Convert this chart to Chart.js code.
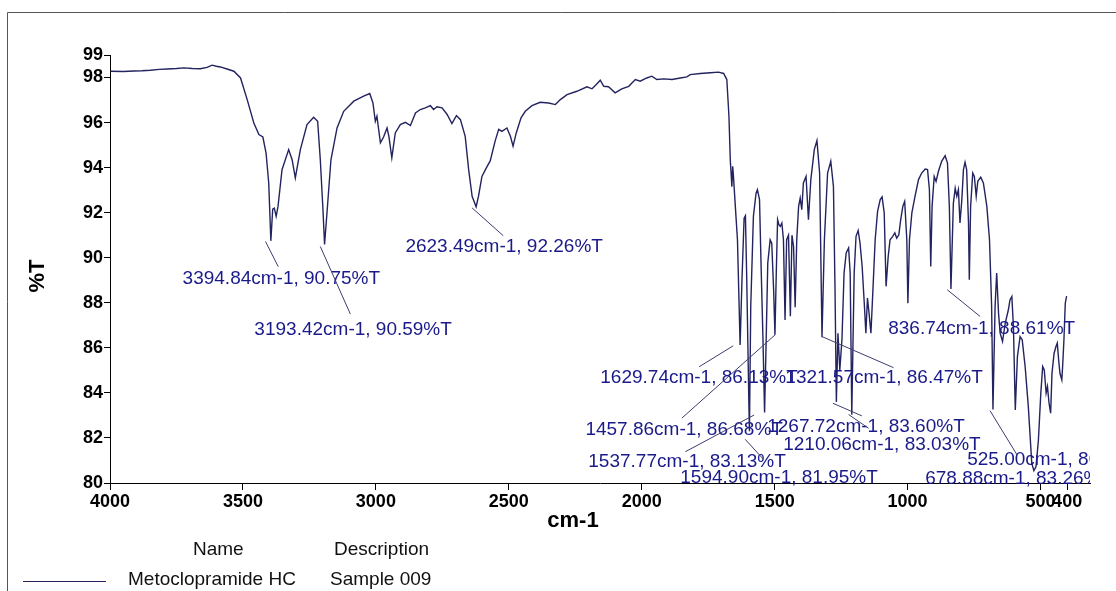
<!DOCTYPE html>
<html>
<head>
<meta charset="utf-8">
<script src="https://cdn.jsdelivr.net/npm/chart.js@4/dist/chart.umd.min.js"></script>
<style>
  html, body { margin: 0; padding: 0; background: #fff; }
  canvas { display: block; }
</style>
</head>
<body>
<canvas id="ir-chart" width="1116" height="591"></canvas>
<script>
'use strict';

// spectrum (cm-1, %T), from 4000 down to 400
var wavenumbers = [
    3998, 3950, 3910, 3880, 3848, 3815, 3785, 3750, 3722, 3690, 3660, 3635, 3616, 3600, 3585, 3560,
    3534, 3509, 3484, 3459, 3440, 3425, 3413, 3403, 3395, 3388, 3382, 3375, 3368, 3353, 3328, 3315,
    3303, 3284, 3259, 3234, 3219, 3209, 3199, 3193, 3183, 3169, 3146, 3121, 3083, 3046, 3023, 3011,
    3002, 2996, 2983, 2971, 2958, 2951, 2940, 2927, 2908, 2889, 2870, 2851, 2833, 2814, 2795, 2783,
    2770, 2751, 2732, 2714, 2697, 2682, 2664, 2651, 2638, 2623, 2614, 2601, 2585, 2570, 2551, 2538,
    2526, 2507, 2494, 2484, 2472, 2454, 2438, 2413, 2382, 2350, 2325, 2306, 2281, 2244, 2206, 2187,
    2171, 2156, 2143, 2125, 2100, 2075, 2049, 2024, 2006, 1981, 1962, 1943, 1918, 1886, 1855, 1830,
    1818, 1780, 1742, 1711, 1692, 1680, 1672, 1667, 1661, 1658, 1655, 1648, 1640, 1630, 1623, 1615,
    1610, 1605, 1597, 1595, 1590, 1580, 1570, 1565, 1557, 1552, 1544, 1538, 1532, 1526, 1517, 1511,
    1504, 1499, 1494, 1489, 1484, 1479, 1473, 1467, 1461, 1455, 1448, 1441, 1435, 1429, 1423, 1417,
    1410, 1404, 1398, 1392, 1382, 1373, 1364, 1351, 1341, 1331, 1322, 1313, 1301, 1289, 1279, 1273,
    1268, 1262, 1255, 1247, 1239, 1231, 1222, 1216, 1210, 1201, 1194, 1186, 1179, 1171, 1163, 1157,
    1151, 1145, 1138, 1131, 1122, 1113, 1103, 1096, 1088, 1081, 1073, 1066, 1056, 1048, 1041, 1033,
    1026, 1018, 1011, 1003, 999, 993, 984, 972, 959, 947, 934, 925, 918, 913, 908, 900,
    893, 884, 872, 859, 850, 843, 837, 828, 821, 815, 809, 803, 796, 790, 784, 778,
    771, 768, 763, 755, 749, 742, 736, 725, 715, 702, 692, 684, 679, 671, 665, 658,
    652, 643, 633, 621, 615, 608, 602, 595, 587, 577, 569, 558, 546, 533, 525, 517,
    508, 499, 492, 486, 479, 474, 468, 462, 457, 449, 442, 437, 432, 427, 420, 417,
    412, 407, 402
];
var transmittance = [
    98.28, 98.27, 98.29, 98.30, 98.32, 98.36, 98.38, 98.40, 98.43, 98.40, 98.39, 98.45, 98.55, 98.50, 98.47, 98.38,
    98.28, 97.98, 97.02, 95.98, 95.47, 95.36, 94.65, 93.32, 90.75, 92.16, 92.20, 91.84, 92.28, 93.91, 94.80, 94.35,
    93.54, 94.80, 95.91, 96.24, 96.06, 94.35, 92.13, 90.59, 92.13, 94.35, 95.76, 96.50, 96.95, 97.17, 97.29, 96.87,
    96.06, 96.28, 95.10, 95.36, 95.76, 95.39, 94.43, 95.54, 95.91, 96.01, 95.87, 96.43, 96.58, 96.65, 96.75, 96.58,
    96.70, 96.65, 96.36, 95.96, 96.31, 96.13, 95.39, 93.91, 92.73, 92.26, 92.73, 93.61, 93.98, 94.30, 95.20, 95.70,
    95.61, 95.76, 95.39, 94.95, 95.54, 96.21, 96.50, 96.75, 96.90, 96.87, 96.80, 97.02, 97.24, 97.39, 97.59, 97.50,
    97.69, 97.88, 97.61, 97.59, 97.32, 97.50, 97.61, 97.91, 97.84, 97.98, 98.06, 97.91, 97.94, 97.91, 97.98, 98.03,
    98.13, 98.18, 98.21, 98.24, 98.18, 97.91, 96.28, 94.35, 93.15, 94.06, 93.61, 92.28, 90.80, 86.13, 89.02, 91.76,
    91.87, 89.02, 83.50, 82.30, 87.84, 91.84, 92.87, 93.02, 92.58, 90.06, 86.36, 83.13, 86.36, 89.76, 90.80, 90.65,
    88.58, 86.58, 89.32, 91.69, 91.47, 91.39, 91.54, 90.80, 87.24, 90.80, 91.00, 87.40, 91.00, 90.50, 87.80, 90.80,
    92.28, 92.65, 92.13, 93.32, 93.61, 91.69, 93.47, 94.80, 95.20, 93.76, 86.47, 90.80, 93.76, 94.28, 93.17, 88.58,
    83.60, 86.65, 85.02, 86.36, 89.32, 90.21, 90.43, 89.32, 83.03, 89.32, 90.95, 91.21, 90.65, 89.61, 87.98, 86.65,
    88.21, 87.54, 86.65, 88.43, 90.80, 92.06, 92.58, 92.70, 91.99, 88.73, 90.06, 90.80, 90.95, 91.10, 90.87, 91.02,
    91.69, 92.28, 92.50, 90.80, 87.98, 90.80, 91.99, 92.73, 93.47, 93.76, 93.94, 93.91, 93.02, 89.61, 92.28, 93.61,
    93.39, 93.84, 94.28, 94.53, 94.20, 92.28, 88.61, 92.40, 93.09, 92.73, 93.02, 91.54, 92.58, 93.91, 94.24, 93.91,
    91.54, 89.02, 92.28, 93.76, 93.61, 92.73, 93.39, 93.58, 93.32, 92.28, 90.80, 87.84, 83.26, 87.84, 89.32, 87.54,
    86.65, 86.28, 87.09, 87.69, 88.13, 88.28, 86.95, 83.24, 85.61, 86.50, 86.36, 85.17, 83.39, 80.87, 80.55, 80.73,
    81.91, 83.99, 85.17, 85.02, 83.99, 84.28, 83.54, 83.10, 84.87, 85.76, 86.06, 86.21, 85.47, 84.87, 84.58, 85.17,
    86.36, 87.98, 88.30
];

var xTicks = [4000, 3500, 3000, 2500, 2000, 1500, 1000, 500, 400];
var yTicks = [80, 82, 84, 86, 88, 90, 92, 94, 96, 98, 99];

var peakTexts = [
    '3394.84cm-1, 90.75%T', '3193.42cm-1, 90.59%T', '2623.49cm-1, 92.26%T',
    '1629.74cm-1, 86.13%T', '1321.57cm-1, 86.47%T', '1457.86cm-1, 86.68%T',
    '1267.72cm-1, 83.60%T', '1210.06cm-1, 83.03%T', '1537.77cm-1, 83.13%T',
    '1594.90cm-1, 81.95%T', '836.74cm-1, 88.61%T', '525.00cm-1, 80.55%T',
    '678.88cm-1, 83.26%T'
];

var legendName = 'Metoclopramide HC';
var legendDescription = 'Sample 009';

// where each peak label sits, in axis units: [textX, textY, leadX1, leadY1, leadX2, leadY2]
var labelPlaces = [
    [3727, 89.07, 3415, 90.72, 3367, 89.60],
    [3457, 86.80, 3209, 90.50, 3096, 87.50],
    [2889, 90.49, 2638, 92.21, 2521, 90.98],
    [2156, 84.67, 1656, 86.09, 1784, 85.16],
    [1460, 84.67, 1322, 86.50, 1053, 85.12],
    [2212, 82.36, 1498, 86.58, 1849, 82.88],
    [1528, 82.50, 1281, 83.54, 1172, 82.98],
    [1468, 81.69, 1222, 83.04, 1147, 82.43],
    [2201, 80.95, 1577, 83.02, 1836, 81.39],
    [1855, 80.25, 1611, 81.94, 1542, 81.05],
    [1073, 86.84, 851, 88.58, 727, 87.39],
    [776, 81.02, null, null, null, null],
    [934, 80.18, 690, 83.21, 588, 81.24]
];

var FONT = "'Liberation Sans', Arial, sans-serif";
var LINE_COLOR = '#23235f';
var LABEL_COLOR = '#1a1a8a';

var points = wavenumbers.map(function (w, i) {
    return { x: w, y: transmittance[i] };
});

var decorations = {
    id: 'decorations',
    afterDraw: function (chart) {
        var ctx = chart.ctx;
        var xs = chart.scales.x;
        var ys = chart.scales.y;

        ctx.save();

        // outer frame
        ctx.strokeStyle = '#555';
        ctx.lineWidth = 1;
        ctx.beginPath();
        ctx.moveTo(7.5, 591);
        ctx.lineTo(7.5, 12.5);
        ctx.lineTo(1116, 12.5);
        ctx.stroke();

        // peak labels and leader lines, cut off at the right end of the axis
        ctx.save();
        ctx.beginPath();
        ctx.rect(0, 0, xs.right, chart.height);
        ctx.clip();
        ctx.font = '19px ' + FONT;
        ctx.textBaseline = 'middle';
        ctx.textAlign = 'left';
        labelPlaces.forEach(function (p, i) {
            if (p[2] !== null) {
                ctx.strokeStyle = '#3c3c70';
                ctx.lineWidth = 1;
                ctx.beginPath();
                ctx.moveTo(xs.getPixelForValue(p[2]), ys.getPixelForValue(p[3]));
                ctx.lineTo(xs.getPixelForValue(p[4]), ys.getPixelForValue(p[5]));
                ctx.stroke();
            }
            ctx.fillStyle = LABEL_COLOR;
            ctx.fillText(peakTexts[i], xs.getPixelForValue(p[0]), ys.getPixelForValue(p[1]));
        });
        ctx.restore();

        // axis titles
        ctx.fillStyle = '#000';
        ctx.font = 'bold 22px ' + FONT;
        ctx.textAlign = 'center';
        ctx.textBaseline = 'middle';
        ctx.fillText('cm-1', 573, 521);
        ctx.save();
        ctx.translate(38, 276);
        ctx.rotate(-Math.PI / 2);
        ctx.fillText('%T', 0, 0);
        ctx.restore();

        // legend table under the chart
        ctx.font = '19px ' + FONT;
        ctx.fillStyle = '#111';
        ctx.textAlign = 'left';
        ctx.fillText('Name', 193, 550);
        ctx.fillText('Description', 334, 550);
        ctx.fillText(legendName, 128, 580);
        ctx.fillText(legendDescription, 330, 580);
        ctx.strokeStyle = LINE_COLOR;
        ctx.beginPath();
        ctx.moveTo(23, 581.5);
        ctx.lineTo(106, 581.5);
        ctx.stroke();

        ctx.restore();
    }
};

new Chart(document.getElementById('ir-chart'), {
    type: 'line',
    data: {
        datasets: [{
            label: legendName,
            data: points,
            borderColor: LINE_COLOR,
            borderWidth: 1.4,
            pointRadius: 0,
            tension: 0,
            fill: false,
        }],
    },
    options: {
        responsive: false,
        animation: false,
        events: [],
        layout: {
            padding: { left: 0, top: 55, right: 26, bottom: 0 },
        },
        plugins: {
            legend: { display: false },
            tooltip: { enabled: false },
        },
        scales: {
            x: {
                type: 'linear',
                reverse: true,
                min: 314,
                max: 4000,
                afterBuildTicks: function (axis) {
                    axis.ticks = xTicks.map(function (v) { return { value: v }; });
                },
                afterFit: function (axis) {
                    axis.height = 108;
                },
                ticks: {
                    autoSkip: false,
                    maxRotation: 0,
                    padding: 1,
                    color: '#000',
                    font: { family: FONT, size: 18, weight: 'bold' },
                    callback: function (value) {
                        return String(value);
                    },
                },
                grid: {
                    drawOnChartArea: false,
                    drawTicks: true,
                    tickLength: 7,
                    color: '#000',
                },
                border: { display: true, color: '#000', width: 1 },
            },
            y: {
                min: 80,
                max: 99,
                afterBuildTicks: function (axis) {
                    axis.ticks = yTicks.map(function (v) { return { value: v }; });
                },
                afterFit: function (axis) {
                    axis.width = 110;
                },
                ticks: {
                    autoSkip: false,
                    padding: 1,
                    color: '#000',
                    font: { family: FONT, size: 18, weight: 'bold' },
                    callback: function (value) {
                        return String(value);
                    },
                },
                grid: {
                    drawOnChartArea: false,
                    drawTicks: true,
                    tickLength: 6,
                    color: '#000',
                },
                border: { display: true, color: '#000', width: 1 },
            },
        },
    },
    plugins: [decorations],
});
</script>
</body>
</html>
